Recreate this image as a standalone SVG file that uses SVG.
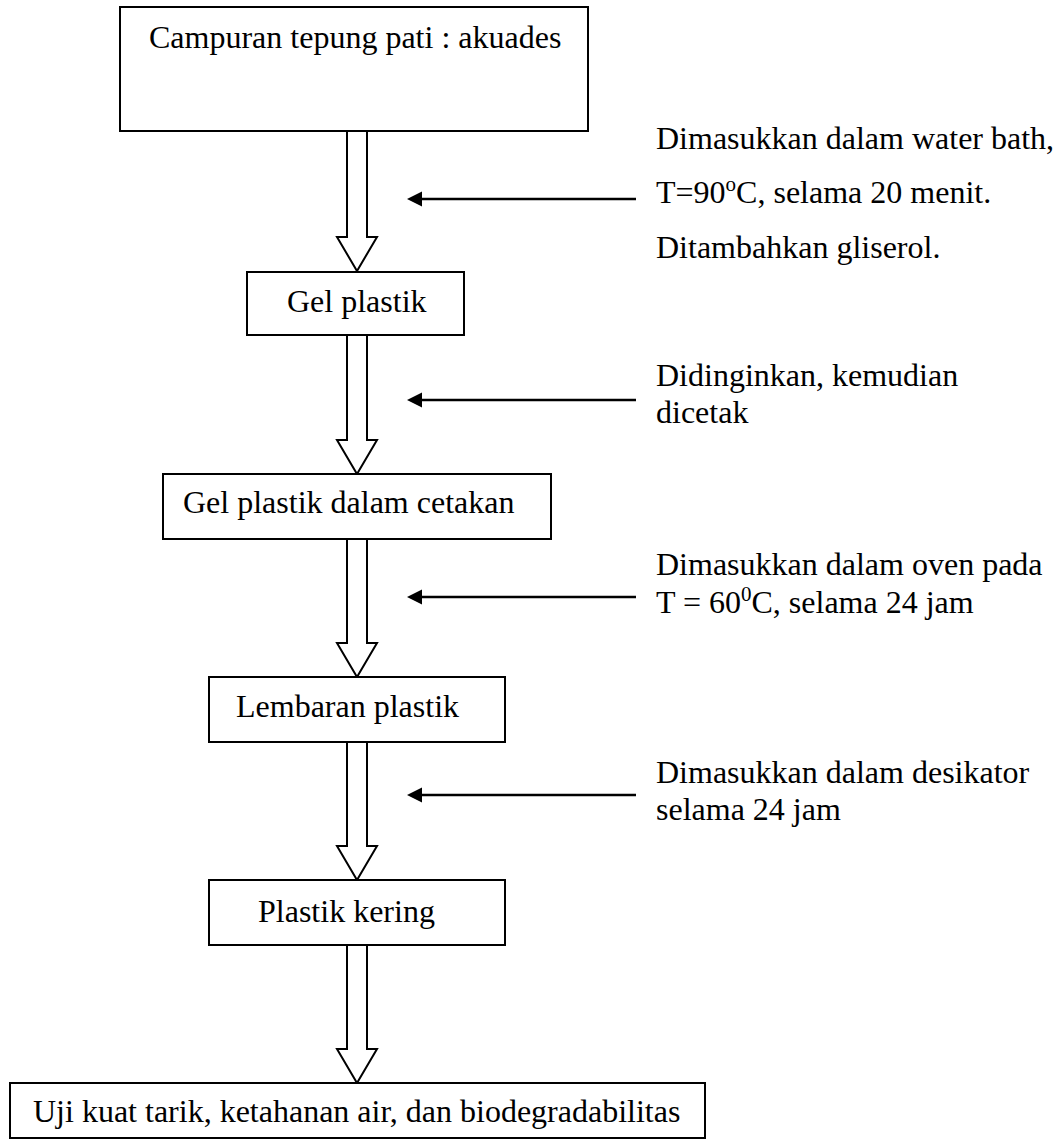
<svg xmlns="http://www.w3.org/2000/svg" width="1061" height="1144" viewBox="0 0 1061 1144">
<style>
.box{fill:#fff;stroke:#000;stroke-width:2}
.t{font-family:"Liberation Serif","Times New Roman",serif;font-size:32px;fill:#000}
.blk{fill:#fff;stroke:#000;stroke-width:2;stroke-linejoin:miter}
.ln{stroke:#000;stroke-width:2.5;fill:none}
</style>
<defs>
<marker id="ah" markerWidth="8" markerHeight="8" refX="0" refY="4" orient="auto" markerUnits="userSpaceOnUse" viewBox="0 0 8 8">
</marker>
</defs>
<rect width="1061" height="1144" fill="#fff"/>
<g id="connectors">
<path class="blk" d="M347,131 V237 H337 L357,271 L377,237 H367 V131"/>
<path class="blk" d="M347,335 V440 H337 L357,474 L377,440 H367 V335"/>
<path class="blk" d="M347,539 V643 H337 L357,677 L377,643 H367 V539"/>
<path class="blk" d="M347,742 V846 H337 L357,880 L377,846 H367 V742"/>
<path class="blk" d="M347,945 V1049 H337 L357,1083 L377,1049 H367 V945"/>
<g>
<line class="ln" x1="636" y1="199" x2="420" y2="199"/><polygon points="407,199 422,191.5 422,206.5"/>
<line class="ln" x1="636" y1="400" x2="420" y2="400"/><polygon points="407,400 422,392.5 422,407.5"/>
<line class="ln" x1="636" y1="597" x2="420" y2="597"/><polygon points="407,597 422,589.5 422,604.5"/>
<line class="ln" x1="636" y1="795" x2="420" y2="795"/><polygon points="407,795 422,787.5 422,802.5"/>
</g>
</g>
<g id="n1"><rect class="box" x="120" y="7" width="468" height="124"/><text class="t" x="149" y="48">Campuran tepung pati : akuades</text></g>
<g id="n2"><rect class="box" x="247" y="272" width="217" height="63"/><text class="t" x="287" y="312">Gel plastik</text></g>
<g id="n3"><rect class="box" x="163" y="474" width="388" height="65"/><text class="t" x="183" y="513">Gel plastik dalam cetakan</text></g>
<g id="n4"><rect class="box" x="209" y="677" width="296" height="65"/><text class="t" x="236" y="717">Lembaran plastik</text></g>
<g id="n5"><rect class="box" x="209" y="880" width="296" height="65"/><text class="t" x="258" y="922">Plastik kering</text></g>
<g id="n6"><rect class="box" x="10" y="1083" width="695" height="55"/><text class="t" x="33" y="1122">Uji kuat tarik, ketahanan air, dan biodegradabilitas</text></g>
<g id="labels">
<text class="t" x="656" y="149">Dimasukkan dalam water bath,</text>
<text class="t" x="656" y="203">T=90<tspan font-size="21" dy="-12">o</tspan><tspan dy="12">C, selama 20 menit.</tspan></text>
<text class="t" x="656" y="258">Ditambahkan gliserol.</text>
<text class="t" x="656" y="386">Didinginkan, kemudian</text>
<text class="t" x="656" y="423">dicetak</text>
<text class="t" x="656" y="575">Dimasukkan dalam oven pada</text>
<text class="t" x="656" y="613">T = 60<tspan font-size="21" dy="-12">0</tspan><tspan dy="12">C, selama 24 jam</tspan></text>
<text class="t" x="656" y="783">Dimasukkan dalam desikator</text>
<text class="t" x="656" y="820">selama 24 jam</text>
</g>
</svg>
